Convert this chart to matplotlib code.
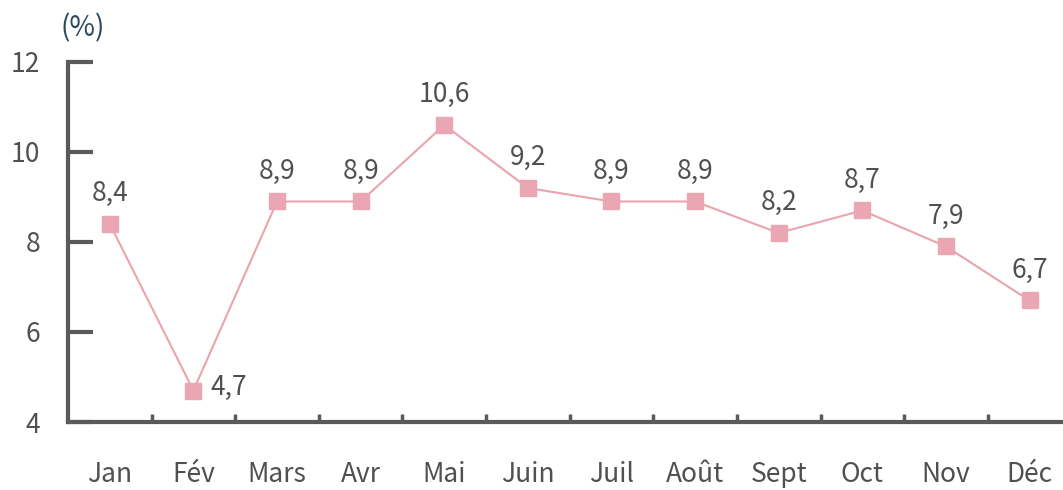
import matplotlib
matplotlib.use("Agg")
import matplotlib.pyplot as plt

plt.rcParams['font.family'] = ['Noto Sans CJK KR', 'DejaVu Sans']

months = ["Jan", "Fév", "Mars", "Avr", "Mai", "Juin", "Juil", "Août", "Sept", "Oct", "Nov", "Déc"]
values = [8.4, 4.7, 8.9, 8.9, 10.6, 9.2, 8.9, 8.9, 8.2, 8.7, 7.9, 6.7]
labels = ["8,4", "4,7", "8,9", "8,9", "10,6", "9,2", "8,9", "8,9", "8,2", "8,7", "7,9", "6,7"]
yticks = [4, 6, 8, 10, 12]

W, H = 1063, 490
fig = plt.figure(figsize=(W / 100, H / 100), dpi=100)
ax = fig.add_axes([68 / W, (H - 422) / H, 1 - 68 / W, (422 - 62) / H])

axis_col = "#5a5a5a"
text_col = "#505050"
line_col = "#eba3ae"

x = list(range(len(months)))
ax.plot(x, values, color=line_col, lw=1.5, marker="s", markersize=12,
        markerfacecolor="#eaa6b2", markeredgecolor="#eaa6b2", zorder=3, clip_on=False)

for i, (v, lab) in enumerate(zip(values, labels)):
    if i == 1:
        ax.annotate(lab, (i, v), xytext=(12, 2), textcoords="offset points",
                    ha="left", va="center", fontsize=19, color=text_col)
    else:
        ax.annotate(lab, (i, v), xytext=(0, 22), textcoords="offset points",
                    ha="center", va="center", fontsize=19, color=text_col)

ax.set_xlim(-0.5, 11.4)
ax.set_ylim(4, 12)

for s in ["top", "right"]:
    ax.spines[s].set_visible(False)
ax.spines["left"].set_color(axis_col)
ax.spines["left"].set_linewidth(3)
ax.spines["bottom"].set_color(axis_col)
ax.spines["bottom"].set_linewidth(3)

ax.set_yticks(yticks)
ax.set_yticklabels([str(t) for t in yticks])
ax.tick_params(axis="y", direction="in", length=18, width=3, color=axis_col,
               pad=20, labelsize=19, labelcolor=text_col)

ax.set_xticks([i + 0.5 for i in range(11)])
ax.set_xticklabels([])
ax.set_xticks(x, minor=True)
ax.set_xticklabels(months, minor=True)
ax.tick_params(axis="x", which="major", direction="in", length=6, width=2.5, color=axis_col)
ax.tick_params(axis="x", which="minor", length=0, pad=28, labelsize=19, labelcolor=text_col)

fig.text(83 / W, 1 - 28 / H, "(%)", ha="center", va="center", fontsize=20, color="#2b4a5e")

fig.savefig("out.png", dpi=100, facecolor="white")
